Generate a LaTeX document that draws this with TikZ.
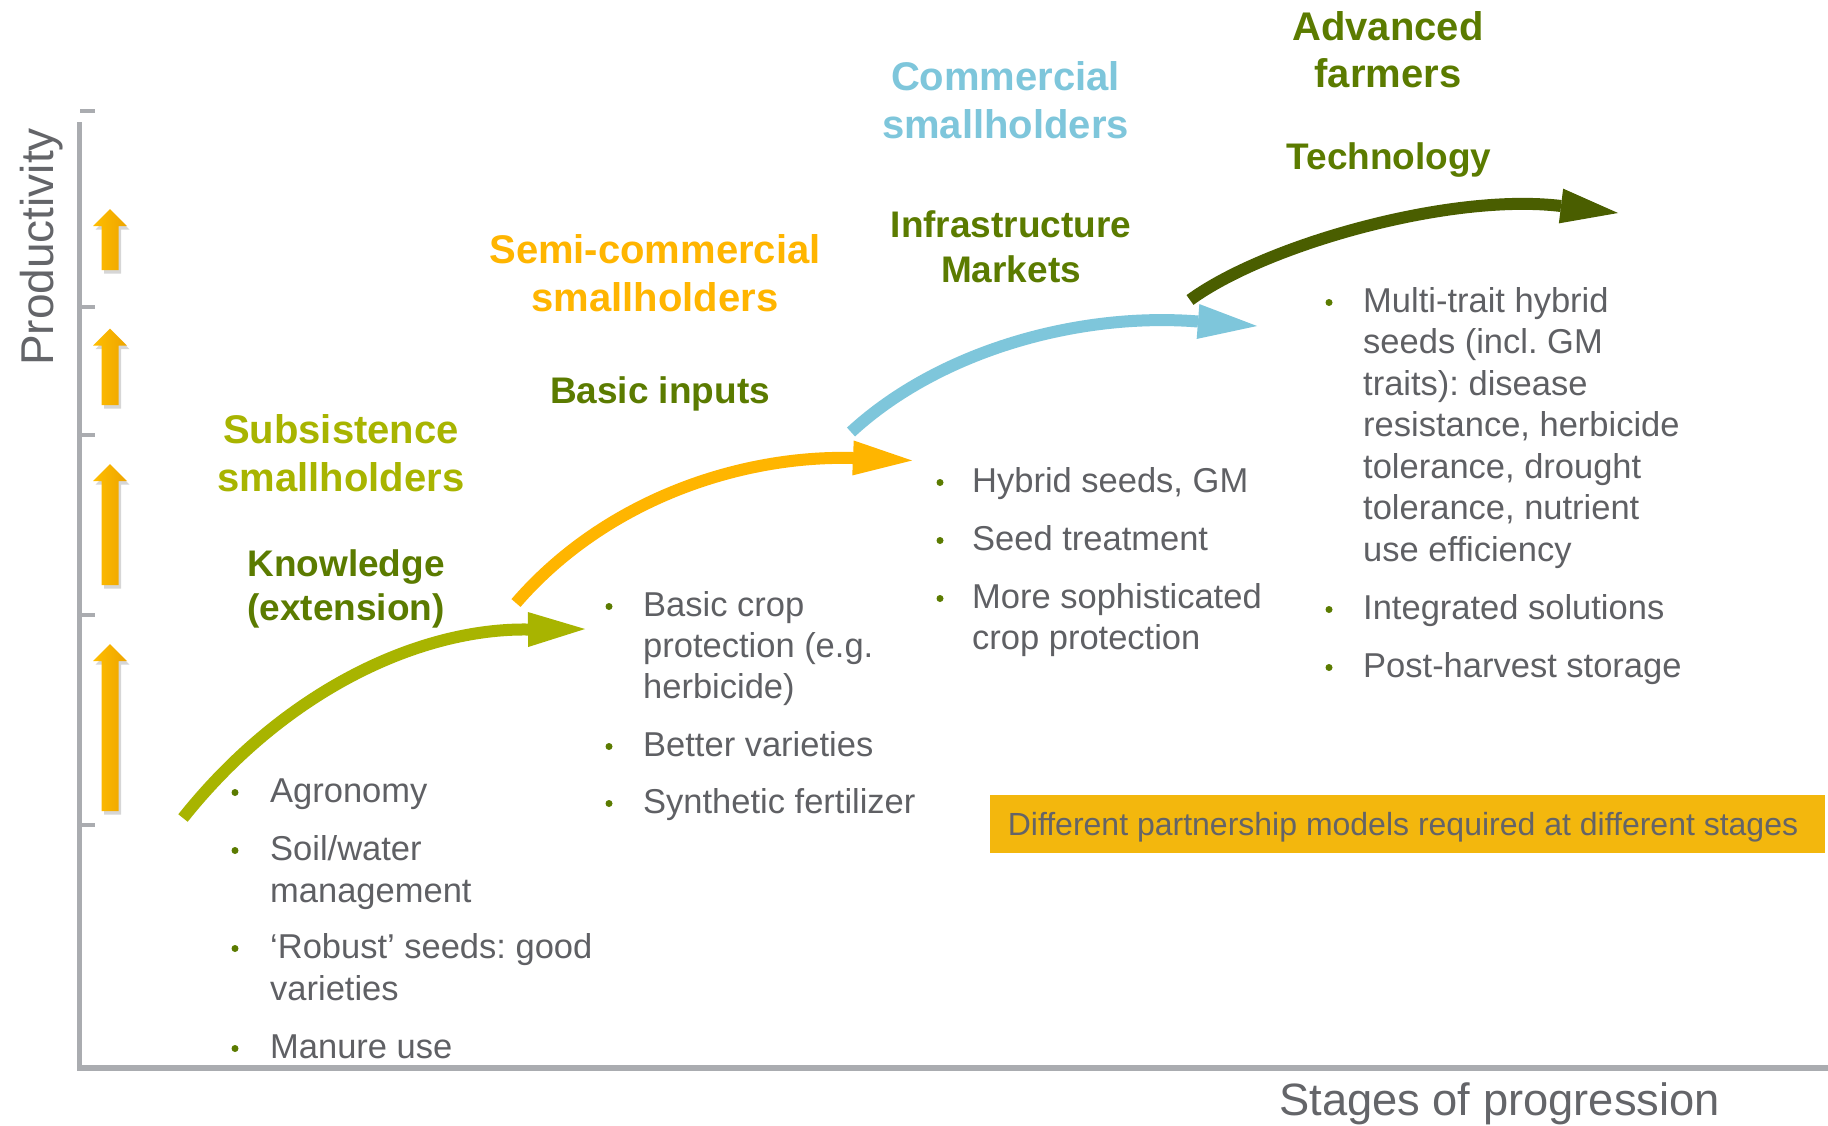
\documentclass[tikz,border=0pt]{standalone}
\usepackage{fontspec}
\setmainfont{Liberation Sans}
\usetikzlibrary{calc}
\frenchspacing
\definecolor{lgreen}{RGB}{168,180,0}
\definecolor{orangeA}{RGB}{255,181,0}
\definecolor{lblue}{RGB}{126,198,219}
\definecolor{dkolive}{RGB}{74,94,0}
\definecolor{dkgreen}{RGB}{91,123,0}
\definecolor{txtgray}{RGB}{95,96,100}
\definecolor{axisgray}{RGB}{170,172,176}
\definecolor{bannergold}{RGB}{243,183,13}
\definecolor{bannertext}{RGB}{100,100,104}
\definecolor{labelgray}{RGB}{100,101,105}
\definecolor{upL}{RGB}{255,190,0}
\definecolor{upR}{RGB}{238,164,0}
\begin{document}
\begin{tikzpicture}[x=1pt,y=-1pt,
  bul/.style={anchor=base west, inner sep=0pt, font=\fontsize{34.5}{41.5}\selectfont\frenchspacing, text=txtgray},
  bdot/.style={circle, fill=dkgreen, inner sep=0pt, minimum size=7pt},
  ttl/.style={anchor=base, inner sep=0pt, font=\fontsize{40}{48}\selectfont\bfseries},
  subl/.style={anchor=base, inner sep=0pt, font=\fontsize{37}{44}\selectfont\bfseries, text=dkgreen},
  axisline/.style={draw=axisgray, line width=5.5pt},
  tickmark/.style={draw=axisgray, line width=4pt},
  flow/.style={line width=12pt},
  axlabel/.style={inner sep=0pt, text=labelgray}
]
\path[use as bounding box, fill=white] (0,0) rectangle (1828,1125);

% axes
\coordinate (ytop) at (79.5,122);
\coordinate (orig) at (79.5,1068);
\coordinate (xend) at (1828,1068);
\draw[axisline] (ytop) -- (orig) -- (xend);
\draw[tickmark] (80,111) -- (95,111);
\foreach \ty in {306.7,435,614.5,824.5} \draw[tickmark] (80,\ty) -- (95,\ty);

% up arrows
\foreach \tp/\bt in {209/270, 328.5/405, 464/585, 644/811} {
  \fill[black, opacity=0.16, xshift=2.5pt, yshift=-3.5pt]
    (101.5,\bt) -- (101.5,\tp+17) -- (93,\tp+17) -- (110,\tp) -- (127,\tp+17) -- (118.5,\tp+17) -- (118.5,\bt) -- cycle;
  \shade[left color=upL, right color=upR]
    (101.5,\bt) -- (101.5,\tp+17) -- (93,\tp+17) -- (110,\tp) -- (127,\tp+17) -- (118.5,\tp+17) -- (118.5,\bt) -- cycle;
}

% axis labels
\node[axlabel, rotate=90, anchor=base west, font=\fontsize{46}{50}\selectfont] (prod) at (53,366) {Productivity};
\node[axlabel, anchor=base west, font=\fontsize{45.3}{50}\selectfont] (stages) at (1279,1115) {Stages of progression};

% curved arrows
\coordinate (a1s) at (183,818); \coordinate (a1b) at (528,629.5); \coordinate (a1t) at (585,629);
\draw[flow, draw=lgreen] (a1s) .. controls (285,690) and (420,628) .. (a1b);
\fill[lgreen] ($(a1b)!17.5pt!90:(a1t)$) -- (a1t) -- ($(a1b)!17.5pt!-90:(a1t)$) -- cycle;

\coordinate (a2s) at (516,603); \coordinate (a2b) at (853,458); \coordinate (a2t) at (912,460.5);
\draw[flow, draw=orangeA] (a2s) .. controls (605,500) and (740,455) .. (a2b);
\fill[orangeA] ($(a2b)!17.5pt!90:(a2t)$) -- (a2t) -- ($(a2b)!17.5pt!-90:(a2t)$) -- cycle;

\coordinate (a3s) at (851,432); \coordinate (a3b) at (1198,321.5); \coordinate (a3t) at (1257,326);
\draw[flow, draw=lblue] (a3s) .. controls (940,350) and (1080,312) .. (a3b);
\fill[lblue] ($(a3b)!17.5pt!90:(a3t)$) -- (a3t) -- ($(a3b)!17.5pt!-90:(a3t)$) -- cycle;

\coordinate (a4s) at (1190,300); \coordinate (a4b) at (1561,206); \coordinate (a4t) at (1618,213);
\draw[flow, draw=dkolive] (a4s) .. controls (1265,245) and (1450,192.5) .. (a4b);
\fill[dkolive] ($(a4b)!17.5pt!90:(a4t)$) -- (a4t) -- ($(a4b)!17.5pt!-90:(a4t)$) -- cycle;

% titles
\node[ttl, text=lgreen] (subs1) at (341,443) {Subsistence};
\node[ttl, text=lgreen] (subs2) at (341,491) {smallholders};
\node[subl] (know1) at (346,576) {Knowledge};
\node[subl] (know2) at (346,620) {(extension)};
\node[ttl, text=orangeA] (semi1) at (655,263) {Semi-commercial};
\node[ttl, text=orangeA] (semi2) at (655,311) {smallholders};
\node[subl] (basic) at (660,403) {Basic inputs};
\node[ttl, text=lblue] (comm1) at (1005.5,90) {Commercial};
\node[ttl, text=lblue] (comm2) at (1005.5,138) {smallholders};
\node[subl] (infra1) at (1011,237) {Infrastructure};
\node[subl] (infra2) at (1011,282) {Markets};
\node[ttl, text=dkgreen] (adv1) at (1388,40) {Advanced};
\node[ttl, text=dkgreen] (adv2) at (1388,87) {farmers};
\node[subl] (tech) at (1389,169) {Technology};

% group 1
\node[bdot] (d11) at (235,792.5) {};
\node[bul] (t11) at (270,802) {Agronomy};
\node[bdot] (d12) at (235,850.5) {};
\node[bul] (t12a) at (270,860) {Soil/water};
\node[bul] (t12b) at (270,902) {management};
\node[bdot] (d13) at (235,948.5) {};
\node[bul] (t13a) at (270,958) {‘Robust’ seeds: good};
\node[bul] (t13b) at (270,1000) {varieties};
\node[bdot] (d14) at (235,1048.5) {};
\node[bul] (t14) at (270,1058) {Manure use};

% group 2
\node[bdot] (d21) at (609,606.5) {};
\node[bul] (t21a) at (643,616) {Basic crop};
\node[bul] (t21b) at (643,657) {protection (e.g.};
\node[bul] (t21c) at (643,698) {herbicide)};
\node[bdot] (d22) at (609,746.5) {};
\node[bul] (t22) at (643,756) {Better varieties};
\node[bdot] (d23) at (609,803.5) {};
\node[bul] (t23) at (643,813) {Synthetic fertilizer};

% group 3
\node[bdot] (d31) at (940,482.5) {};
\node[bul] (t31) at (972,492) {Hybrid seeds, GM};
\node[bdot] (d32) at (940,540.5) {};
\node[bul] (t32) at (972,550) {Seed treatment};
\node[bdot] (d33) at (940,598.5) {};
\node[bul] (t33a) at (972,608) {More sophisticated};
\node[bul] (t33b) at (972,649) {crop protection};

% group 4
\node[bdot] (d41) at (1329,302.5) {};
\node[bul] (t41a) at (1363,312) {Multi-trait hybrid};
\node[bul] (t41b) at (1363,353.5) {seeds (incl. GM};
\node[bul] (t41c) at (1363,395) {traits): disease};
\node[bul] (t41d) at (1363,436.5) {resistance, herbicide};
\node[bul] (t41e) at (1363,478) {tolerance, drought};
\node[bul] (t41f) at (1363,519.5) {tolerance, nutrient};
\node[bul] (t41g) at (1363,561) {use efficiency};
\node[bdot] (d42) at (1329,609.5) {};
\node[bul] (t42) at (1363,619) {Integrated solutions};
\node[bdot] (d43) at (1329,667.5) {};
\node[bul] (t43) at (1363,677) {Post-harvest storage};

% banner
\node[fill=bannergold, inner sep=0pt, minimum width=835pt, minimum height=58pt] (banner) at (1407.5,824) {};
\node[anchor=base, inner sep=0pt, text=bannertext, font=\fontsize{32}{36}\selectfont] (bannertxt) at (1403,835.5)
      {Different partnership models required at different stages};
\end{tikzpicture}
\end{document}
